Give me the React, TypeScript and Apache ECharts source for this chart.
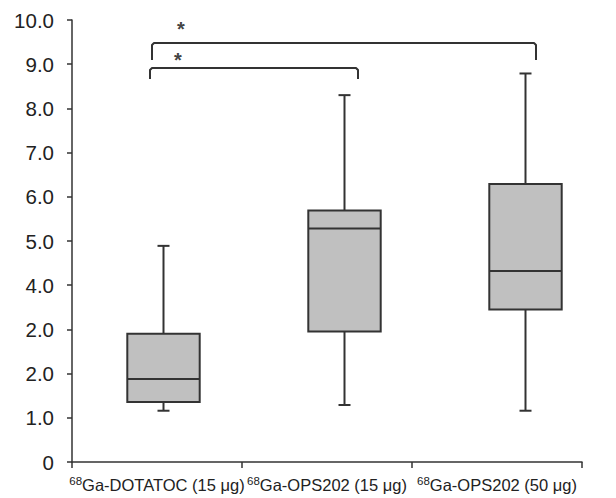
import React, { useEffect, useRef } from "react";
import * as echarts from "echarts";

const categories = ["Ga-DOTATOC (15 μg)", "Ga-OPS202 (15 μg)", "Ga-OPS202 (50 μg)"];
const isotope = "68";
const yTickLabels = ["0", "1.0", "2.0", "2.0", "4.0", "5.0", "6.0", "7.0", "8.0", "9.0", "10.0"];
const lowWhisker = [1.16, 1.29, 1.16];
const q1 = [1.36, 2.95, 3.45];
const median = [1.88, 5.28, 4.32];
const q3 = [2.9, 5.69, 6.29];
const highWhisker = [4.89, 8.3, 8.79];
const significance = ["*", "*"];

const INK = "#333333";
const FONT = "Liberation Sans, Arial, sans-serif";

export default function App() {
  const ref = useRef<HTMLDivElement>(null);
  useEffect(() => {
    if (!ref.current) return;
    const chart = echarts.init(ref.current, undefined, { renderer: "svg" });
    const boxData = categories.map((_, i) => [i, lowWhisker[i], q1[i], median[i], q3[i], highWhisker[i]]);
    const option: any = {
      animation: false,
      backgroundColor: "#ffffff",
      grid: [
        { left: 72, top: 20, width: 510, height: 442 },
        { left: 73, top: 20, width: 544, height: 442 },
      ],
      xAxis: [
        {
          type: "category",
          gridIndex: 0,
          data: categories,
          boundaryGap: true,
          axisLine: { lineStyle: { color: INK, width: 1.5 } },
          axisTick: { show: true, length: 6, lineStyle: { color: INK, width: 1.5 } },
          axisLabel: {
            margin: 13,
            interval: 0,
            formatter: (v: string) => `{sup|${isotope}}{main|${v}}`,
            rich: {
              sup: { fontSize: 11.5, fontFamily: FONT, color: "#222", verticalAlign: "top", lineHeight: 20, padding: [0, 0, 8, 0] },
              main: { fontSize: 16.5, fontFamily: FONT, color: "#222", lineHeight: 20 },
            },
          },
          splitLine: { show: false },
        },
        {
          type: "category",
          gridIndex: 1,
          data: categories,
          show: false,
        },
      ],
      yAxis: [
        {
          type: "value",
          gridIndex: 0,
          min: 0,
          max: 10,
          interval: 1,
          axisLine: { show: true, lineStyle: { color: INK, width: 1.5 } },
          axisTick: { show: true, length: 5, lineStyle: { color: INK, width: 1.5 } },
          axisLabel: {
            margin: 18,
            fontSize: 20.5,
            fontFamily: FONT,
            color: "#222",
            formatter: (v: number) => yTickLabels[Math.round(v)] ?? String(v),
          },
          splitLine: { show: false },
        },
        { type: "value", gridIndex: 1, min: 0, max: 10, show: false },
      ],
      series: [
        {
          type: "custom",
          xAxisIndex: 1,
          yAxisIndex: 1,
          data: boxData,
          encode: { x: 0, y: [1, 2, 3, 4, 5] },
          renderItem: (params: any, api: any) => {
            const x = api.value(0);
            const pLo = api.coord([x, api.value(1)]);
            const pQ1 = api.coord([x, api.value(2)]);
            const pMed = api.coord([x, api.value(3)]);
            const pQ3 = api.coord([x, api.value(4)]);
            const pHi = api.coord([x, api.value(5)]);
            const bw = api.size([1, 0])[0] * 0.4;
            const cx = pLo[0];
            const cap = 6;
            const ls = { stroke: INK, lineWidth: 2 };
            return {
              type: "group",
              children: [
                { type: "line", shape: { x1: cx, y1: pHi[1], x2: cx, y2: pQ3[1] }, style: ls },
                { type: "line", shape: { x1: cx, y1: pLo[1], x2: cx, y2: pQ1[1] }, style: ls },
                { type: "line", shape: { x1: cx - cap, y1: pHi[1], x2: cx + cap, y2: pHi[1] }, style: ls },
                { type: "line", shape: { x1: cx - cap, y1: pLo[1], x2: cx + cap, y2: pLo[1] }, style: ls },
                {
                  type: "rect",
                  shape: { x: cx - bw / 2, y: pQ3[1], width: bw, height: pQ1[1] - pQ3[1] },
                  style: { fill: "#c0c0c0", stroke: INK, lineWidth: 2 },
                },
                { type: "line", shape: { x1: cx - bw / 2, y1: pMed[1], x2: cx + bw / 2, y2: pMed[1] }, style: ls },
              ],
            };
          },
        },
      ],
      graphic: [
        {
          type: "polyline",
          shape: { points: [[152, 60], [152, 45], [154, 43], [534, 43], [536, 45], [536, 60]] },
          style: { stroke: INK, lineWidth: 2, fill: null, lineJoin: "round" },
        },
        {
          type: "polyline",
          shape: { points: [[150, 79], [150, 70], [152, 68], [356, 68], [358, 70], [358, 79]] },
          style: { stroke: INK, lineWidth: 2, fill: null, lineJoin: "round" },
        },
        {
          type: "text",
          x: 181,
          y: 29,
          style: { text: significance[0], fontSize: 20, fontWeight: "bold", fontFamily: FONT, fill: "#444", align: "center", verticalAlign: "middle" },
        },
        {
          type: "text",
          x: 178,
          y: 60,
          style: { text: significance[1], fontSize: 20, fontWeight: "bold", fontFamily: FONT, fill: "#444", align: "center", verticalAlign: "middle" },
        },
      ],
    };
    chart.setOption(option);
    return () => chart.dispose();
  }, []);
  return <div ref={ref} style={{ position: "fixed", left: 0, top: 0, width: 616, height: 498 }} />;
}
